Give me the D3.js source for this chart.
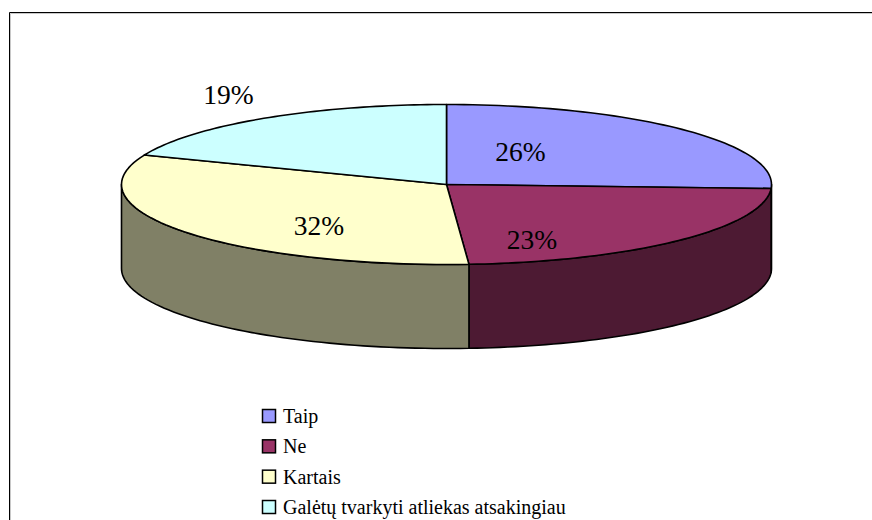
<!DOCTYPE html>
<html><head><meta charset="utf-8">
<script src="https://cdnjs.cloudflare.com/ajax/libs/d3/7.8.5/d3.min.js"></script>
<style>html,body{margin:0;padding:0;background:#fff}svg{display:block}text{font-family:"Liberation Serif",serif;fill:#000}</style>
</head><body><svg id="c" width="872" height="520"></svg>
<script>
const categories = ["Taip","Ne","Kartais","Galėtų tvarkyti atliekas atsakingiau"];
const values = [25.8,23.1,32.1,19];
const labels = ["26%","23%","32%","19%"];
const topColors = ["#9999ff","#993366","#ffffcc","#ccffff"];
const sideColors = ["#4d4d80","#4d1a33","#808066","#668080"];

const svg = d3.select("#c");
svg.append("path").attr("d","M10.5,520V13.5H872").attr("fill","none").attr("stroke","#c8c8c8");
svg.append("path").attr("d","M9.5,520V12.5H872").attr("fill","none").attr("stroke","#000");

const cx=446.5, cy=184.5, rx=325, ry=80, depth=84;
const pie = d3.pie().sort(null).value(d=>d).startAngle(0).endAngle(2*Math.PI);
const arcs = pie(values);
const px = a => cx + rx*Math.sin(a);
const py = a => cy - ry*Math.cos(a);
const steps = (a,b)=>d3.range(0,61).map(i=>a+(b-a)*i/60);
const g = svg.append("g").attr("stroke","#000").attr("stroke-width",1.6).attr("stroke-linejoin","round");

arcs.forEach((d,i)=>{
  const a=Math.max(d.startAngle,Math.PI/2), b=Math.min(d.endAngle,3*Math.PI/2);
  if(b<=a) return;
  const pts=steps(a,b);
  const top=pts.map(t=>[px(t),py(t)]);
  const bot=pts.slice().reverse().map(t=>[px(t),py(t)+depth]);
  g.append("path").attr("d",d3.line()(top.concat(bot))+"Z").attr("fill",sideColors[i]);
});
arcs.forEach((d,i)=>{
  const pts=steps(d.startAngle,d.endAngle).map(t=>[px(t),py(t)]);
  g.append("path").attr("d",d3.line()([[cx,cy],...pts])+"Z").attr("fill",topColors[i]);
});

const labelPos=[[520.5,152],[532,240],[319,226],[228.5,95]];
svg.selectAll("text.lab").data(labels).join("text").attr("class","lab")
  .attr("x",(d,i)=>labelPos[i][0]).attr("y",(d,i)=>labelPos[i][1]+9)
  .attr("text-anchor","middle").attr("font-size",27.5).text(d=>d);

const ly=d3.scalePoint().domain(categories).range([416,507]);
const lg=svg.selectAll("g.leg").data(categories).join("g").attr("class","leg")
  .attr("transform",d=>`translate(262.5,${ly(d)})`);
lg.append("rect").attr("x",0).attr("y",-6.5).attr("width",13).attr("height",13)
  .attr("fill",(d,i)=>topColors[i]).attr("stroke","#000").attr("stroke-width",1.5);
lg.append("text").attr("x",20.5).attr("y",7).attr("font-size",20).text(d=>d);
</script></body></html>
